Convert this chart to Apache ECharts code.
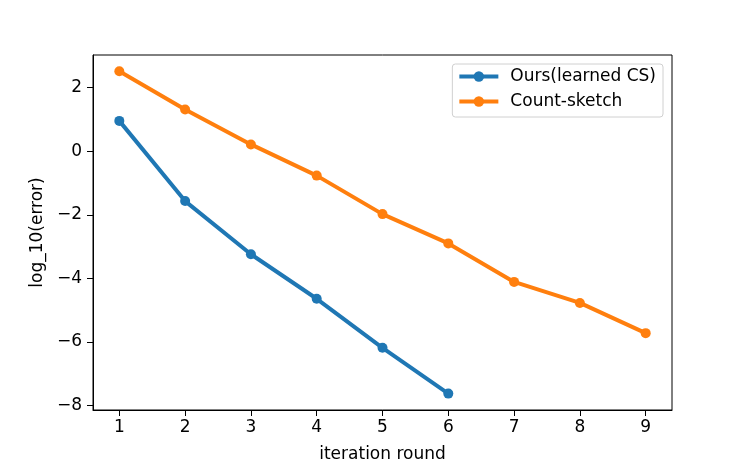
<!DOCTYPE html>
<html>
<head>
<meta charset="utf-8">
<script src="https://cdn.jsdelivr.net/npm/echarts@6/dist/echarts.min.js"></script>
<style>
  html, body { margin: 0; padding: 0; background: #fff; }
  #chart { width: 747px; height: 461px; }
</style>
</head>
<body>
<div id="chart"></div>
<script>
// iteration rounds and log10 errors
var roundsOurs = [1, 2, 3, 4, 5, 6];
var errOurs = [0.95, -1.57, -3.24, -4.64, -6.18, -7.62];
var roundsCS = [1, 2, 3, 4, 5, 6, 7, 8, 9];
var errCS = [2.51, 1.31, 0.21, -0.77, -1.98, -2.90, -4.11, -4.77, -5.72];
var xTicks = [1, 2, 3, 4, 5, 6, 7, 8, 9];
var yTicks = [-8, -6, -4, -2, 0, 2];

function pairs(xs, ys) {
    return xs.map(function (x, i) { return [x, ys[i]]; });
}

var font = 'DejaVu Sans';
var fs = 17;
var chart = echarts.init(document.getElementById('chart'), null, { renderer: 'canvas' });

var option = {
    animation: false,
    backgroundColor: '#fff',
    textStyle: { fontFamily: font },
    grid: {
        left: 93, right: 75, top: 55, bottom: 51,
        outerBoundsMode: 'none',
        containLabel: false,
        show: true, borderColor: '#000', borderWidth: 1, backgroundColor: 'transparent'
    },
    legend: {
        orient: 'vertical',
        right: 84, top: 64,
        itemWidth: 39, itemHeight: 13, itemGap: 8,
        padding: [4, 7, 7, 5],
        backgroundColor: '#fff',
        borderColor: '#d0d0d0', borderWidth: 1, borderRadius: 3,
        lineStyle: { width: 4 },
        textStyle: { fontFamily: font, fontSize: fs, lineHeight: 17, color: '#000', padding: [0, 0, 0, 7] },
        data: ['Ours(learned CS)', 'Count-sketch']
    },
    xAxis: {
        type: 'value',
        min: 0.6, max: 9.4,
        name: 'iteration round', nameLocation: 'middle', nameGap: 36,
        nameTextStyle: { fontFamily: font, fontSize: fs, color: '#000' },
        splitLine: { show: false },
        axisLine: { show: true, onZero: false, lineStyle: { color: '#000', width: 1 } },
        axisTick: { show: true, inside: false, length: 6, customValues: xTicks, lineStyle: { color: '#000' } },
        axisLabel: { customValues: xTicks, margin: 9, fontFamily: font, fontSize: fs, color: '#000' }
    },
    yAxis: {
        type: 'value',
        min: -8.135, max: 3.02,
        name: 'log_10(error)', nameLocation: 'middle', nameGap: 43,
        nameTextStyle: { fontFamily: font, fontSize: fs, color: '#000' },
        splitLine: { show: false },
        axisLine: { show: true, onZero: false, lineStyle: { color: '#000', width: 1 } },
        axisTick: { show: true, inside: false, length: 6, customValues: yTicks, lineStyle: { color: '#000' } },
        axisLabel: {
            customValues: yTicks, margin: 11, fontFamily: font, fontSize: fs, color: '#000',
            formatter: function (v) { return v < 0 ? '\u2212' + Math.abs(v) : String(v); }
        }
    },
    series: [
        {
            name: 'Ours(learned CS)', type: 'line',
            data: pairs(roundsOurs, errOurs),
            symbol: 'circle', symbolSize: 10,
            lineStyle: { color: '#1f77b4', width: 4 },
            itemStyle: { color: '#1f77b4' }
        },
        {
            name: 'Count-sketch', type: 'line',
            data: pairs(roundsCS, errCS),
            symbol: 'circle', symbolSize: 10,
            lineStyle: { color: '#ff7f0e', width: 4 },
            itemStyle: { color: '#ff7f0e' }
        }
    ]
};

chart.setOption(option);
</script>
</body>
</html>
